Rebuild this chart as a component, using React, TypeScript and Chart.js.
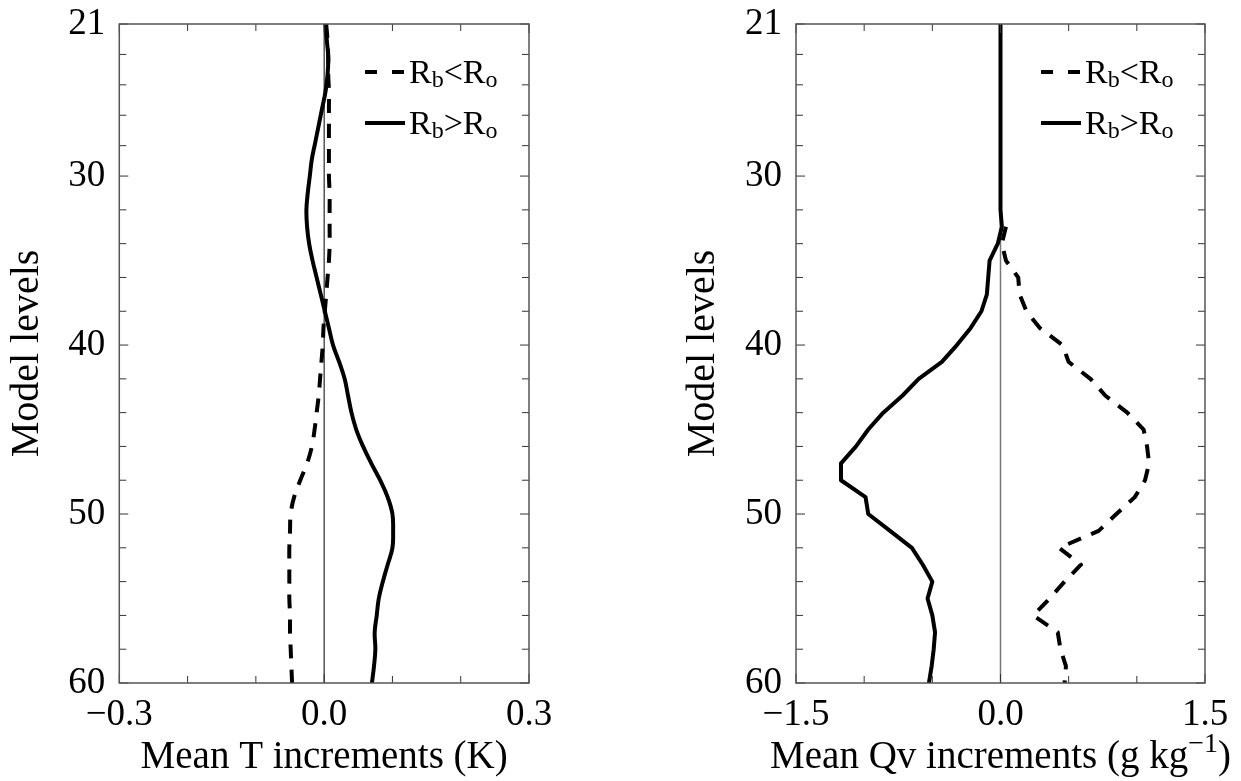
import React, { useEffect, useRef } from "react";
import { Chart, registerables } from "chart.js";
Chart.register(...registerables);

const FONT = '"Liberation Serif", "Times New Roman", serif';

// ---------- Data ----------
const levels = [21, 22, 23, 24, 25, 26, 27, 28, 29, 30, 31, 32, 33, 34, 35, 36, 37, 38, 39, 40,
  41, 42, 43, 44, 45, 46, 47, 48, 49, 50, 51, 52, 53, 54, 55, 56, 57, 58, 59, 60];

// Mean T increments (K)
const tRbLessRo = [0.003, 0.005, 0.006, 0.006, 0.007, 0.007, 0.007, 0.007, 0.007, 0.007,
  0.008, 0.008, 0.008, 0.008, 0.007, 0.005, 0.003, 0.001, -0.001, -0.002,
  -0.004, -0.006, -0.008, -0.011, -0.014, -0.018, -0.025, -0.035, -0.044, -0.049,
  -0.050, -0.051, -0.051, -0.051, -0.051, -0.050, -0.050, -0.049, -0.048, -0.047];
const tRbGreaterRo = [0.002, 0.004, 0.006, 0.005, 0.002, -0.003, -0.008, -0.013, -0.018, -0.021,
  -0.024, -0.026, -0.025, -0.022, -0.017, -0.011, -0.005, 0.001, 0.007, 0.013,
  0.022, 0.030, 0.035, 0.040, 0.047, 0.057, 0.069, 0.082, 0.093, 0.100,
  0.101, 0.100, 0.093, 0.086, 0.080, 0.077, 0.074, 0.075, 0.073, 0.070];

// Mean Qv increments (g kg-1)
const qvLessLevels = [33, 34, 35, 36, 37, 38, 39, 40, 41, 42, 43, 44, 45, 46, 47, 48, 49, 50,
  51, 52, 53, 54, 55, 56, 57, 58, 59, 60];
const qvRbLessRo = [0.04, 0.01, 0.04, 0.13, 0.14, 0.19, 0.29, 0.455, 0.50, 0.66,
  0.77, 0.93, 1.05, 1.075, 1.09, 1.06, 0.985, 0.85, 0.72, 0.43,
  0.59, 0.47, 0.36, 0.24, 0.42, 0.44, 0.48, 0.47];
const qvRbGreaterRo = [0, 0, 0, 0, 0, 0, 0, 0, 0, 0, 0, 0.0, 0.01, -0.02, -0.08, -0.09, -0.10, -0.14, -0.22, -0.32,
  -0.43, -0.60, -0.72, -0.86, -0.97, -1.06, -1.17, -1.17, -0.99, -0.97,
  -0.81, -0.65, -0.57, -0.50, -0.535, -0.50, -0.48, -0.49, -0.505, -0.525];

const tXTicks = [-0.3, -0.2, -0.1, 0, 0.1, 0.2, 0.3];
const tXTickLabels = ["\u22120.3", "", "", "0.0", "", "", "0.3"];
const qvXTicks = [-1.5, -1.0, -0.5, 0, 0.5, 1.0, 1.5];
const qvXTickLabels = ["\u22121.5", "", "", "0.0", "", "", "1.5"];
const yTicks = [21, 22.8, 24.6, 26.4, 28.2, 30, 32, 34, 36, 38, 40, 42, 44, 46, 48, 50, 52, 54, 56, 58, 60];
const yTickLabels = ["21", "", "", "", "", "30", "", "", "", "", "40", "", "", "", "", "50", "", "", "", "", "60"];

const seriesNames = ["R_b<R_o", "R_b>R_o"];
const yTitle = "Model levels";
const tXTitle = "Mean T increments (K)";
const qvXTitle = "Mean Qv increments (g kg^\u22121)";

// ---------- helpers ----------
// "_x" -> subscript char, "^abc)" -> superscript run until ')' (exclusive)
function parseLabel(s: string) {
  const out: { text: string; mode: "n" | "sub" | "sup" }[] = [];
  for (let i = 0; i < s.length; i++) {
    if (s[i] === "_") { out.push({ text: s[i + 1], mode: "sub" }); i++; }
    else if (s[i] === "^") {
      let j = i + 1; let t = "";
      while (j < s.length && s[j] !== ")" && s[j] !== " ") { t += s[j]; j++; }
      out.push({ text: t, mode: "sup" }); i = j - 1;
    }
    else out.push({ text: s[i], mode: "n" });
  }
  return out;
}

function drawRich(ctx: any, s: string, x: number, base: number, size: number, align: "left" | "center") {
  const segs = parseLabel(s);
  const small = Math.round(size * 0.72);
  const fontOf = (m: string) => `${m === "n" ? size : small}px ${FONT}`;
  let total = 0;
  segs.forEach((sg) => { ctx.font = fontOf(sg.mode); total += ctx.measureText(sg.text).width; });
  let tx = align === "center" ? x - total / 2 : x;
  ctx.textAlign = "left";
  ctx.textBaseline = "alphabetic";
  segs.forEach((sg) => {
    ctx.font = fontOf(sg.mode);
    const dy = sg.mode === "sub" ? size * 0.12 : sg.mode === "sup" ? -size * 0.42 : 0;
    ctx.fillText(sg.text, tx, base + dy);
    tx += ctx.measureText(sg.text).width;
  });
}

function makePlugin(cfg: any) {
  return {
    id: "frameDeco",
    beforeDatasetsDraw(chart: any) {
      const { ctx, chartArea } = chart;
      const xs = chart.scales.x;
      const x0 = xs.getPixelForValue(0);
      ctx.save();
      ctx.strokeStyle = cfg.zeroColor;
      ctx.lineWidth = cfg.zeroWidth;
      ctx.beginPath();
      ctx.moveTo(x0, chartArea.top);
      ctx.lineTo(x0, chartArea.bottom);
      ctx.stroke();
      ctx.restore();
    },
    afterDatasetsDraw(chart: any) {
      const { ctx, chartArea } = chart;
      const { left, right, top, bottom } = chartArea;
      const xs = chart.scales.x;
      const ys = chart.scales.y;
      ctx.save();
      ctx.setLineDash([]);
      // ticks
      ctx.strokeStyle = "#333";
      ctx.lineWidth = 1;
      ctx.beginPath();
      cfg.xTicks.forEach((v: number, i: number) => {
        const p = xs.getPixelForValue(v);
        const len = cfg.xTickLabels[i] ? 9 : 7;
        ctx.moveTo(p, bottom); ctx.lineTo(p, bottom - len);
        ctx.moveTo(p, top); ctx.lineTo(p, top + len);
      });
      yTicks.forEach((v: number, i: number) => {
        const p = ys.getPixelForValue(v);
        const len = yTickLabels[i] ? 9 : 7;
        ctx.moveTo(left, p); ctx.lineTo(left + len, p);
        ctx.moveTo(right, p); ctx.lineTo(right - len, p);
      });
      ctx.stroke();
      // frame
      ctx.strokeStyle = "#555";
      ctx.lineWidth = 1.5;
      ctx.strokeRect(left, top, right - left, bottom - top);

      // x-axis title (with superscript)
      ctx.fillStyle = "#000";
      drawRich(ctx, cfg.xTitle, (left + right) / 2, bottom + 85, 39, "center");

      // legend
      const sx = right - 164;
      const rows = [top + 48, top + 99];
      seriesNames.forEach((name, i) => {
        const y = rows[i];
        ctx.strokeStyle = "#000";
        ctx.lineWidth = 4;
        ctx.lineCap = "butt";
        ctx.setLineDash(i === 0 ? [12, 15] : []);
        ctx.beginPath();
        ctx.moveTo(sx, y);
        ctx.lineTo(sx + 40, y);
        ctx.stroke();
        ctx.setLineDash([]);
        ctx.fillStyle = "#000";
        drawRich(ctx, name, sx + 44, y + 11, 34, "left");
      });
      ctx.restore();
    },
  };
}

function Panel(props: any) {
  const { cfg, left, width } = props;
  const ref = useRef<HTMLCanvasElement>(null);
  useEffect(() => {
    const chart = new Chart(ref.current as HTMLCanvasElement, {
      type: "scatter",
      data: {
        datasets: cfg.series.map((s: any) => ({
          data: s.levels.map((l: number, i: number) => ({ x: s.values[i], y: l })),
          showLine: true,
          borderColor: "#000",
          backgroundColor: "#000",
          borderWidth: 4,
          borderDash: s.dash,
          borderCapStyle: "butt",
          borderJoinStyle: "round",
          pointRadius: 0,
          tension: s.tension,
          fill: false,
        })),
      },
      options: {
        responsive: false,
        animation: false,
        devicePixelRatio: 1,
        layout: { padding: { left: cfg.padLeft, top: 24, right: cfg.padRight, bottom: 0 } },
        plugins: { legend: { display: false }, tooltip: { enabled: false } },
        scales: {
          x: {
            type: "linear",
            position: "bottom",
            min: cfg.xTicks[0],
            max: cfg.xTicks[cfg.xTicks.length - 1],
            grid: { display: false, drawTicks: false },
            border: { display: false },
            afterBuildTicks: (s: any) => { s.ticks = cfg.xTicks.map((v: number) => ({ value: v })); },
            afterFit: (s: any) => { s.height = 98; s.paddingLeft = 0; s.paddingRight = 0; },
            ticks: {
              autoSkip: false, maxRotation: 0, minRotation: 0, padding: 10, color: "#000",
              font: { family: FONT, size: 37 },
              callback: (_v: any, i: number) => cfg.xTickLabels[i],
            },
            title: { display: false },
          },
          y: {
            type: "linear",
            position: "left",
            reverse: true,
            min: 21,
            max: 60,
            grid: { display: false, drawTicks: false },
            border: { display: false },
            afterBuildTicks: (s: any) => { s.ticks = yTicks.map((v) => ({ value: v })); },
            afterFit: (s: any) => { s.width = 119.3; s.paddingTop = 0; s.paddingBottom = 0; },
            ticks: {
              autoSkip: false, padding: 14, color: "#000",
              font: { family: FONT, size: 37 },
              callback: (_v: any, i: number) => yTickLabels[i],
            },
            title: {
              display: true, text: yTitle, color: "#000",
              font: { family: FONT, size: 40 }, padding: { top: 3, bottom: 0 },
            },
          },
        },
      },
      plugins: [makePlugin(cfg)],
    } as any);
    return () => chart.destroy();
  }, []);
  return (
    <canvas
      ref={ref}
      width={width}
      height={781}
      style={{ position: "absolute", left, top: 0, width, height: 781 }}
    />
  );
}

const tCfg = {
  xTicks: tXTicks, xTickLabels: tXTickLabels, xTitle: tXTitle,
  padLeft: 0, padRight: 91, zeroColor: "#000", zeroWidth: 1,
  series: [
    { levels: levels, values: tRbLessRo, dash: [14, 11], tension: 0.4 },
    { levels: levels, values: tRbGreaterRo, dash: [], tension: 0.4 },
  ],
};
const qvCfg = {
  xTicks: qvXTicks, xTickLabels: qvXTickLabels, xTitle: qvXTitle,
  padLeft: 56.7, padRight: 36, zeroColor: "#777", zeroWidth: 1.5,
  series: [
    { levels: qvLessLevels, values: qvRbLessRo, dash: [14, 11], tension: 0 },
    { levels: levels, values: qvRbGreaterRo, dash: [], tension: 0 },
  ],
};

export default function App() {
  return (
    <div style={{ position: "fixed", left: 0, top: 0, width: 1241, height: 781, background: "#fff" }}>
      <Panel cfg={tCfg} left={0} width={620} />
      <Panel cfg={qvCfg} left={620} width={621} />
    </div>
  );
}
